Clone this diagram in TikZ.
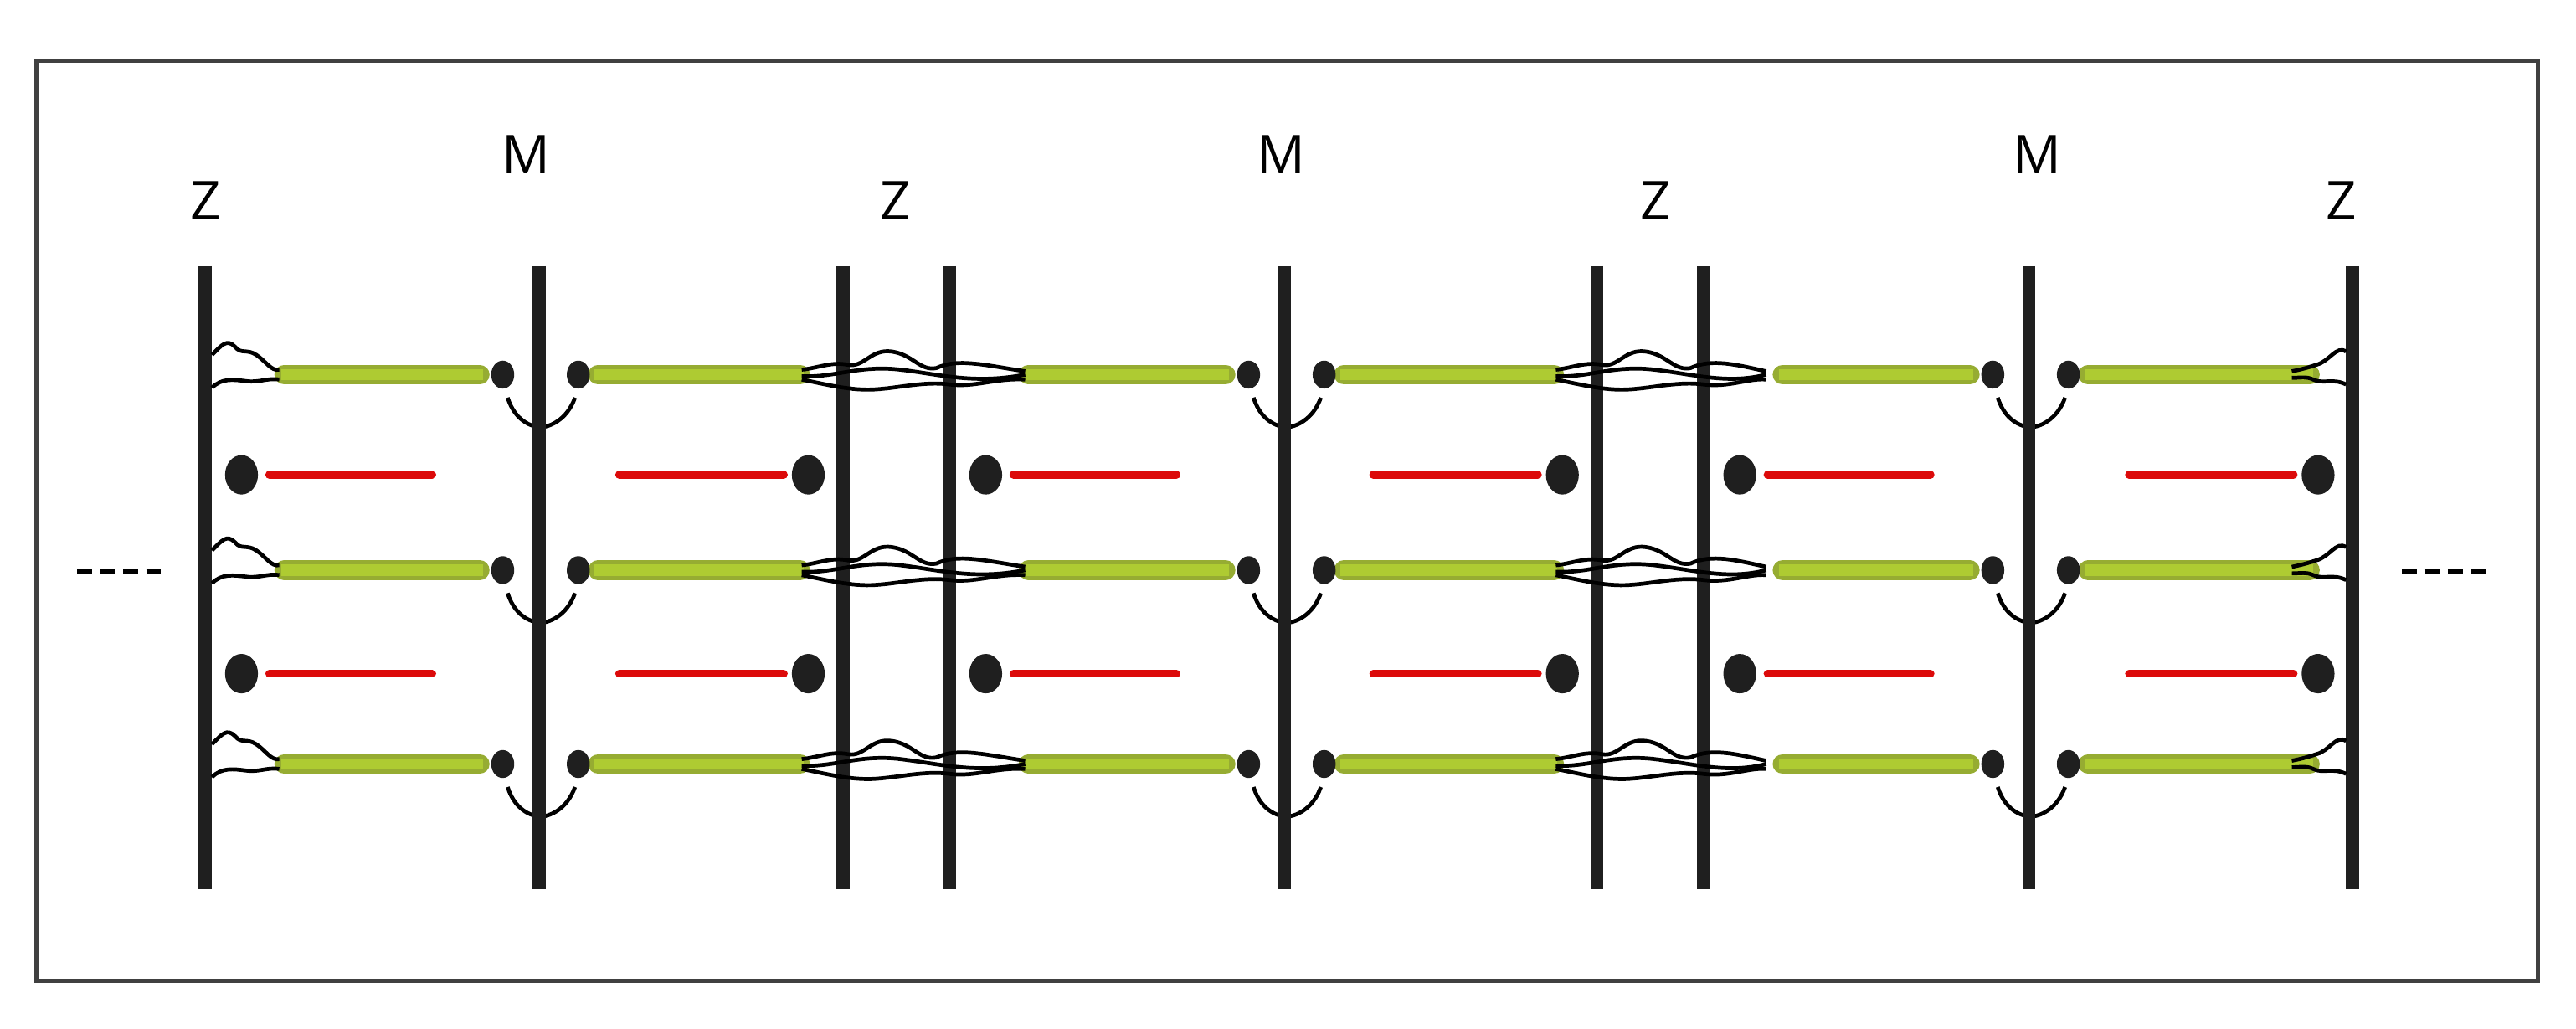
\documentclass[tikz,border=0pt]{standalone}
\usepackage{fontspec}
\setmainfont{Open Sans}
\begin{document}
\begin{tikzpicture}[x=1.9624pt,y=-1.9624pt,
  zline/.style={line width=8*1.9624pt,color=black!88},
  green/.style={line width=12*1.9624pt,color={rgb,255:red,150;green,172;blue,50},line cap=round},
  greenin/.style={line width=7*1.9624pt,color={rgb,255:red,174;green,203;blue,50}},
  red/.style={line width=5*1.9624pt,color={rgb,255:red,220;green,10;blue,10},line cap=round},
  ti/.style={line width=2.4*1.9624pt,black},
  dsh/.style={line width=2.5*1.9624pt,black,dash pattern=on 9*1.9624pt off 5*1.9624pt},
  lab/.style={font=\fontsize{64}{76}\selectfont}]
\useasboundingbox (0,0) rectangle (1568,626);
\draw[line width=2.5*1.9624pt,black!75] (22,37) rectangle (1545,597);
% labels
\node[lab] (z1) at (125,122) {Z};
\node[lab] (m1) at (320,94) {M};
\node[lab] (z2) at (545,122) {Z};
\node[lab] (m2) at (780,94) {M};
\node[lab] (z3) at (1008,122) {Z};
\node[lab] (m3) at (1240,94) {M};
\node[lab] (z4) at (1425,122) {Z};
\coordinate (da) at (47,348); \coordinate (db) at (98,348);
\coordinate (dc) at (1462,348); \coordinate (dd) at (1513,348);
\draw[dsh] (da) -- (db);
\draw[dsh] (dc) -- (dd);
% sarcomeres
\foreach \zl/\m/\zr in {125/328/513, 578/782/972, 1037/1235/1432}{
  \foreach \y in {228,347,465}{
    \draw[green] (\zl+48,\y) -- (\m-36,\y);
    \draw[greenin] (\zl+46,\y) -- (\m-34,\y);
    \draw[green] (\m+36,\y) -- (\zr-26,\y);
    \draw[greenin] (\m+34,\y) -- (\zr-24,\y);
    \fill[black!88] (\m-22,\y) ellipse (7 and 8.5);
    \fill[black!88] (\m+24,\y) ellipse (7 and 8.5);
    \draw[ti] (\m-19,\y+14) .. controls (\m-14,\y+30) and (\m-2,\y+32) .. (\m+1,\y+32)
              .. controls (\m+6,\y+32) and (\m+17,\y+28) .. (\m+22,\y+14);
  }
  \foreach \y in {289,410}{
    \fill[black!88] (\zl+22,\y) ellipse (10 and 12);
    \draw[red] (\zl+39,\y) -- (\zl+138,\y);
    \draw[red] (\zr-136,\y) -- (\zr-36,\y);
    \fill[black!88] (\zr-21,\y) ellipse (10 and 12);
  }
  \draw[zline] (\zl,162) -- (\zl,541);
  \draw[zline] (\m,162) -- (\m,541);
  \draw[zline] (\zr,162) -- (\zr,541);
}
% titin at outer Z lines
\foreach \y in {228,347,465}{
  \draw[ti] (129,\y-12) .. controls (135,\y-18) and (138,\y-22) .. (143,\y-17)
     .. controls (147,\y-12) and (150,\y-16) .. (156,\y-12) .. controls (162,\y-8) and (165,\y-2) .. (170,\y-3);
  \draw[ti] (129,\y+8) .. controls (135,\y+2) and (142,\y+3) .. (150,\y+4)
     .. controls (158,\y+5) and (162,\y+2) .. (170,\y+3);
  \draw[ti] (1428,\y-14) .. controls (1422,\y-18) and (1418,\y-8) .. (1410,\y-6)
     .. controls (1404,\y-4) and (1400,\y-3) .. (1395,\y-2);
  \draw[ti] (1428,\y+6) .. controls (1420,\y+2) and (1414,\y+6) .. (1408,\y+3)
     .. controls (1404,\y+1) and (1400,\y+2) .. (1395,\y+2);
}
% titin between adjacent Z lines
\foreach \a/\b in {488/624, 947/1075}{
  \foreach \y in {228,347,465}{
    \draw[ti] (\a,\y-3) .. controls (\a+10,\y-4) and (\a+18,\y-8) .. (\a+28,\y-6)
       .. controls (\a+38,\y-4) and (\a+42,\y-16) .. (\a+55,\y-14)
       .. controls (\a+68,\y-12) and (\a+72,\y-2) .. (\a+82,\y-4)
       .. controls (\a+95,\y-10) and (\a+110,\y-6) .. (\b,\y-2);
    \draw[ti] (\a,\y+3) .. controls (\a+15,\y+6) and (\a+30,\y+10) .. (\a+45,\y+9)
       .. controls (\a+60,\y+8) and (\a+75,\y+4) .. (\a+90,\y+6)
       .. controls (\a+105,\y+8) and (\a+118,\y+2) .. (\b,\y+3);
    \draw[ti] (\a,\y+1) .. controls (\a+20,\y+2) and (\a+35,\y-6) .. (\a+60,\y-3)
       .. controls (\a+85,\y) and (\a+105,\y+6) .. (\b,\y);
  }
}
\end{tikzpicture}
\end{document}
